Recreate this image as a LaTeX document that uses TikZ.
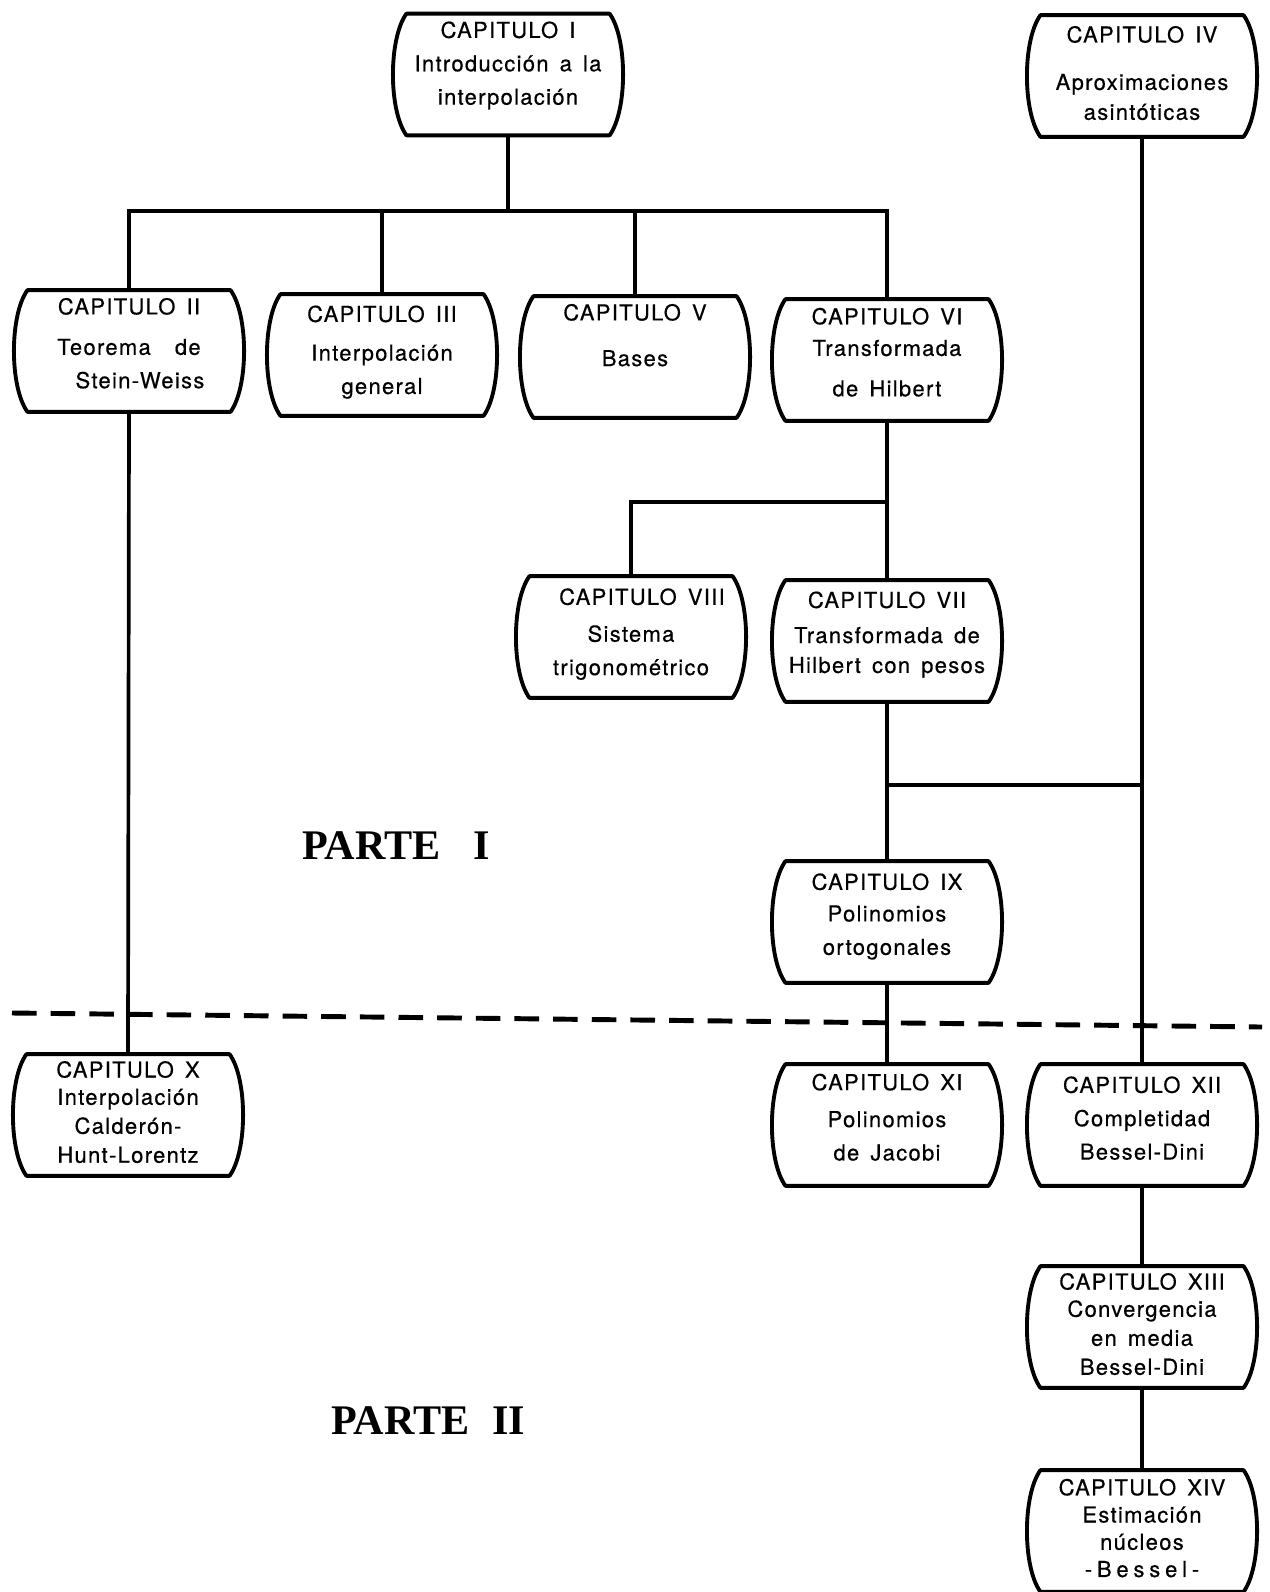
\documentclass[tikz,border=0pt]{standalone}
\usepackage{fontspec}
\setsansfont{TeX Gyre Heros}[LetterSpace=6,WordSpace=1.5,FakeBold=0.5]
\newfontfamily\partefont{Liberation Serif}

\begin{document}
\begin{tikzpicture}[x=0.02cm, y=-0.02cm,
    chap/.style={font=\sffamily\fontsize{12.5}{19}\selectfont, align=center,
      inner sep=0pt, minimum width=4.05cm, minimum height=2.42cm, text depth=9pt},
    chaplong/.style={chap, font=\sffamily\fontsize{12.5}{15.5}\selectfont, text depth=3.5pt},
    outline/.style={line width=2.2pt, line join=round},
    link/.style={line width=2.1pt},
    parte/.style={font=\partefont\bfseries\fontsize{24}{28}\selectfont,
      anchor=base west, inner sep=0pt}]
  \useasboundingbox (0,0) rectangle (1269,1592);

  % chapters
  \node[chap, text depth=13pt] (cap1) at (508,74.5) {CAPITULO I\\Introducción a la\\interpolación};
  \node[chap, text depth=3.5pt] (cap4) at (1142,76) {CAPITULO IV\\[8pt]Aproximaciones\\[-2pt]asintóticas};
  \node[chap] (cap2) at (129,351) {CAPITULO II\\[4pt]Teorema\hspace{1.1em}de\hspace{1.5em}\\\hspace{1em}Stein-Weiss};
  \node[chap, text depth=6pt] (cap3) at (382,355) {CAPITULO III\\[3pt]Interpolación\\general};
  \node[chap, text depth=25pt] (cap5) at (635,357) {CAPITULO V\\[7pt]Bases};
  \node[chap] (cap6) at (887,360) {CAPITULO VI\\[-1pt]Transformada\\[4pt]de Hilbert};
  \node[chap, text depth=6pt] (cap8) at (631,637) {\hspace{1em}CAPITULO VIII\\[2pt]Sistema\\trigonométrico};
  \node[chap, text depth=10pt] (cap7) at (887,641) {CAPITULO VII\\[1pt]Transformada de\\[-2pt]Hilbert con pesos};
  \node[chap] (cap9) at (887,922) {CAPITULO IX\\[-1pt]Polinomios\\ortogonales};
  \node[chaplong] (cap10) at (128,1115) {CAPITULO X\\Interpolación\\[1pt]Calderón-\\[1pt]Hunt-Lorentz};
  \node[chap] (cap11) at (887,1125) {CAPITULO XI\\[2pt]Polinomios\\de Jacobi};
  \node[chap, text depth=8pt] (cap12) at (1142,1125) {CAPITULO XII\\Completidad\\Bessel-Dini};
  \node[chaplong] (cap13) at (1142,1327) {CAPITULO XIII\\Convergencia\\[1pt]en media\\[1pt]Bessel-Dini};
  \node[chaplong] (cap14) at (1142,1531) {CAPITULO XIV\\Estimación\\núcleos\\{\addfontfeature{LetterSpace=22}-Bessel-}};

  \foreach \n in {cap1,cap2,cap3,cap4,cap5,cap6,cap7,cap8,cap9,cap10,cap11,cap12,cap13,cap14}
    \draw[outline] (\n.north west) -- (\n.north east)
      .. controls +(0.36cm,-0.5cm) and +(0.36cm,0.5cm) .. (\n.south east)
      -- (\n.south west)
      .. controls +(-0.36cm,0.5cm) and +(-0.36cm,-0.5cm) .. cycle;

  % parts
  \node[parte] (parte1) at (302,859) {PARTE\hspace{0.65cm}I};
  \node[parte] (parte2) at (331,1434) {PARTE\hspace{0.45cm}II};

  % separator
  \coordinate (sepL) at (12,1013);
  \coordinate (sepR) at (1262,1027);
  \draw[line width=2.8pt, dash pattern=on 14pt off 8pt] (sepL) -- (sepR);

  % connectors
  \coordinate (bar) at (0,211);
  \coordinate (fork) at (0,502);
  \coordinate (join) at (0,785);
  \draw[link] (cap1.south) -- (cap1.south |- bar);
  \draw[link] (cap2.north) |- (cap6.north |- bar) -- (cap6.north);
  \draw[link] (cap3.north) -- (cap3.north |- bar);
  \draw[link] (cap5.north) -- (cap5.north |- bar);
  \draw[link] (cap6.south) -- (cap7.north);
  \draw[link] (cap8.north) |- (cap6.south |- fork);
  \draw[link] (cap7.south) -- (cap9.north);
  \draw[link] (cap9.north |- join) -- (cap4.south |- join);
  \draw[link] (cap4.south) -- (cap12.north);
  \draw[link] (cap9.south) -- (cap11.north);
  \draw[link] (cap2.south) -- (cap10.north);
  \draw[link] (cap12.south) -- (cap13.north);
  \draw[link] (cap13.south) -- (cap14.north);
\end{tikzpicture}
\end{document}
